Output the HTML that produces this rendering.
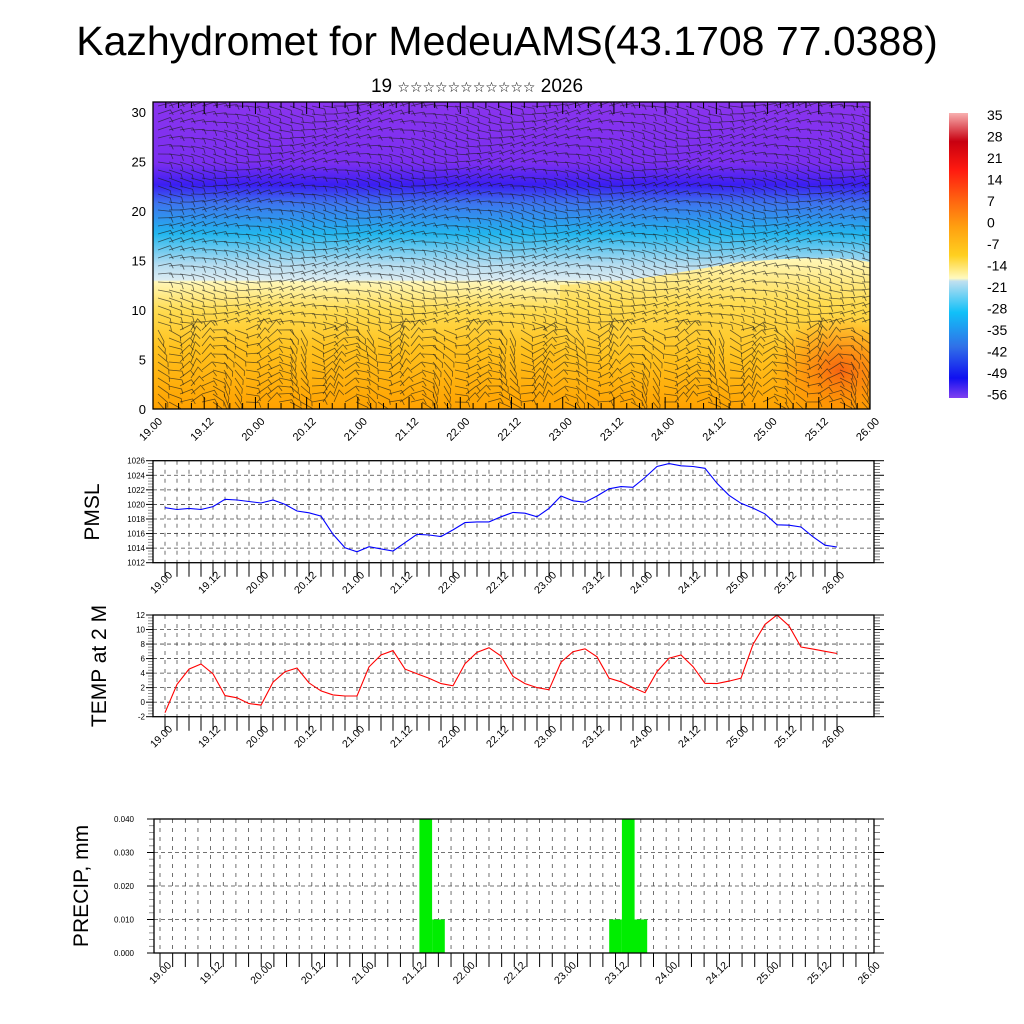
<!DOCTYPE html>
<html><head><meta charset="utf-8"><style>
body{margin:0;background:#fff;}
svg{display:block;font-family:"Liberation Sans",sans-serif;}
</style></head><body>
<svg id="chart" width="1024" height="1024" viewBox="0 0 1024 1024" xmlns="http://www.w3.org/2000/svg">
<defs>
<linearGradient id="tg" x1="0" y1="0" x2="0" y2="1">
<stop offset="0" stop-color="#8a34ee"/>
<stop offset="0.2" stop-color="#7a2ef0"/>
<stop offset="0.27" stop-color="#3a1ef2"/>
<stop offset="0.33" stop-color="#3d74ee"/>
<stop offset="0.43" stop-color="#22b6ee"/>
<stop offset="0.53" stop-color="#b4dcf0"/>
<stop offset="0.58" stop-color="#dcecf2"/>
<stop offset="0.585" stop-color="#fff7b8"/>
<stop offset="0.68" stop-color="#ffdc50"/>
<stop offset="0.8" stop-color="#ffc21e"/>
<stop offset="1" stop-color="#ffa200"/>
</linearGradient>
<linearGradient id="warm" x1="0" y1="0" x2="0" y2="1">
<stop offset="0" stop-color="#fff7b8"/>
<stop offset="0.3" stop-color="#ffdc50"/>
<stop offset="0.65" stop-color="#ffc21e"/>
<stop offset="1" stop-color="#ffa200"/>
</linearGradient>
<radialGradient id="hot" cx="0.5" cy="0.5" r="0.5">
<stop offset="0" stop-color="#f55a10" stop-opacity="0.9"/>
<stop offset="1" stop-color="#ff8000" stop-opacity="0"/>
</radialGradient>
<linearGradient id="cb" x1="0" y1="0" x2="0" y2="1">
<stop offset="0" stop-color="#f8b0b0"/>
<stop offset="0.1" stop-color="#c80010"/>
<stop offset="0.2" stop-color="#ff1a10"/>
<stop offset="0.3" stop-color="#ff6010"/>
<stop offset="0.4" stop-color="#ffa010"/>
<stop offset="0.5" stop-color="#ffd020"/>
<stop offset="0.58" stop-color="#fffac0"/>
<stop offset="0.59" stop-color="#c0e0f0"/>
<stop offset="0.7" stop-color="#10c0f8"/>
<stop offset="0.82" stop-color="#3070e8"/>
<stop offset="0.93" stop-color="#1010f0"/>
<stop offset="1" stop-color="#8040f0"/>
</linearGradient>
<clipPath id="tclip"><rect x="153" y="102" width="717" height="307"/></clipPath>
</defs>
<text x="507" y="55" font-size="41" text-anchor="middle">Kazhydromet for MedeuAMS(43.1708 77.0388)</text>
<text x="477" y="92" font-size="19" text-anchor="middle">19 <tspan font-size="14" font-family="DejaVu Sans">☆☆☆☆☆☆☆☆☆☆☆</tspan> 2026</text>

<g id="topPanel">
<g clip-path="url(#tclip)">
<rect x="153" y="102" width="717" height="307" fill="url(#tg)"/>
<path d="M560 409 L560 285 C640 282 690 270 740 262 C790 258 840 256 870 262 L870 409 Z" fill="url(#warm)"/>
<ellipse cx="840" cy="370" rx="70" ry="55" fill="url(#hot)"/>
<g id="barbs" stroke="#1a1a1a" stroke-width="0.8" stroke-opacity="0.65" fill="none"></g>
</g>
<rect x="153" y="102" width="717" height="307" fill="none" stroke="#000" stroke-width="1.3"/>
<g id="topaxes"></g>
</g>

<g id="cbar">
<rect x="949" y="113" width="19" height="285" fill="url(#cb)"/>
</g>

<text transform="translate(99,512) rotate(-90)" font-size="21" text-anchor="middle">PMSL</text>
<text transform="translate(106,666) rotate(-90)" font-size="21" text-anchor="middle">TEMP at 2 M</text>
<text transform="translate(88,886) rotate(-90)" font-size="21" text-anchor="middle">PRECIP, mm</text>
<g id="panels"></g>
</svg>
<script>
const NS="http://www.w3.org/2000/svg";
const dayLabels=["19.00","19.12","20.00","20.12","21.00","21.12","22.00","22.12","23.00","23.12","24.00","24.12","25.00","25.12","26.00"];
const pmslValues=[1019.55,1019.3,1019.45,1019.3,1019.7,1020.7,1020.6,1020.4,1020.2,1020.6,1020.0,1019.1,1018.85,1018.4,1015.9,1014.05,1013.5,1014.2,1013.9,1013.6,1014.75,1015.9,1015.8,1015.6,1016.5,1017.5,1017.6,1017.6,1018.3,1018.9,1018.8,1018.3,1019.45,1021.15,1020.5,1020.3,1021.15,1022.15,1022.45,1022.35,1023.7,1025.2,1025.6,1025.3,1025.2,1024.95,1022.9,1021.25,1020.15,1019.5,1018.7,1017.2,1017.15,1016.9,1015.55,1014.4,1014.15];
const tempValues=[-1.45,2.45,4.55,5.25,3.9,0.9,0.6,-0.2,-0.4,2.75,4.2,4.7,2.65,1.55,1.0,0.85,0.85,4.85,6.5,7.1,4.55,3.9,3.3,2.55,2.25,5.3,6.85,7.5,6.35,3.55,2.55,2.0,1.7,5.5,6.95,7.35,6.25,3.3,2.8,2.0,1.3,4.2,6.05,6.5,4.9,2.6,2.55,2.9,3.3,7.95,10.7,12.0,10.5,7.6,7.3,7.0,6.7];
const precipIndex=[21,22,36,37,38];
const precipValues=[0.04,0.01,0.01,0.04,0.01];
const pmslTicks=[1012,1014,1016,1018,1020,1022,1024,1026];
const tempTicks=[-2,0,2,4,6,8,10,12];
const precipTicks=[0,0.01,0.02,0.03,0.04];
const precipTickLabels=["0.000","0.010","0.020","0.030","0.040"];
const heightTicks=[0,5,10,15,20,25,30];
const cbarLabels=["35","28","21","14","7","0","-7","-14","-21","-28","-35","-42","-49","-56"];

function el(tag,attrs,parent){const e=document.createElementNS(NS,tag);for(const k in attrs)e.setAttribute(k,attrs[k]);parent.appendChild(e);return e;}
const svgRoot=document.getElementById('chart');
const panelsG=document.getElementById('panels');

const topAx=document.getElementById('topaxes');
const tx=i=>153+i*(717/56);
const ty=h=>409-h*(297/30);
heightTicks.forEach(h=>{
  const t=el('text',{x:146,y:ty(h)+5,'font-size':13,'text-anchor':'end'},topAx);
  
  
  t.textContent=h;
});
for(let i=0;i<=56;i++){
  el('line',{x1:tx(i),x2:tx(i),y1:409,y2:409-(i%4==0?12:6),stroke:'#000','stroke-width':1},topAx);
  el('line',{x1:tx(i),x2:tx(i),y1:102,y2:102+(i%4==0?12:6),stroke:'#000','stroke-width':1},topAx);
}
dayLabels.forEach((l,k)=>{
  const x=tx(k*4)+10,y=422;
  const t=el('text',{x:x,y:y,'font-size':11,'text-anchor':'end',transform:`rotate(-45 ${x} ${y})`},topAx);
  
  
  t.textContent=l;
});
const barbs=document.getElementById('barbs');
for(let gx=158;gx<870;gx+=11){
  for(let gy=106;gy<409;gy+=8){
    const h=(409-gy)/297*30;
    let a=Math.sin(gx*0.031+gy*0.05)*0.35;
    if(h<8) a+=Math.sin(gx*0.09)*0.9;
    const L=13;
    const x2=gx+L*Math.cos(a),y2=gy+L*Math.sin(a);
    el('path',{d:`M${gx} ${gy} L${x2.toFixed(1)} ${y2.toFixed(1)} l${(-3*Math.sin(a)+2).toFixed(1)} 5`},barbs);
  }
}
cbarLabels.forEach((l,k)=>{
  const t=el('text',{x:987,y:120+k*21.5,'font-size':14},svgRoot);
  
  
  t.textContent=l;
});

function panel(name,x0,x1,yt,yb,vmin,vmax,ticks,tickLabels,labelOff,labX){
  const g=el('g',{},panelsG);
  
  
  const X=i=>x0+i*(x1-x0)/56;
  const Y=v=>yb-(v-vmin)/(vmax-vmin)*(yb-yt);
  const left=name==='precip'?154:153, right=874;
  for(let i=0;i<=56;i++){
    el('line',{x1:X(i),x2:X(i),y1:yt,y2:yb,stroke:'#333','stroke-width':0.7,'stroke-dasharray':'4,5'},g);
  }
  ticks.forEach((v,k)=>{
    if(k>0&&k<ticks.length-1) el('line',{x1:left,x2:right,y1:Y(v),y2:Y(v),stroke:'#444','stroke-width':0.8,'stroke-dasharray':'4,3'},g);
    const t=el('text',{x:labX,y:Y(v)+3,'font-size':8,'text-anchor':'end'},g);
    
    
    t.textContent=tickLabels?tickLabels[k]:v;
    el('line',{x1:left-7,x2:left,y1:Y(v),y2:Y(v),stroke:'#000','stroke-width':1},g);
    el('line',{x1:right,x2:right+10,y1:Y(v),y2:Y(v),stroke:'#000','stroke-width':1},g);
    if(k<ticks.length-1){
      for(let m=1;m<5;m++){const yy=Y(v)+(Y(ticks[k+1])-Y(v))*m/5;
        el('line',{x1:left-5,x2:left,y1:yy,y2:yy,stroke:'#777','stroke-width':0.8},g);
        el('line',{x1:right,x2:right+6,y1:yy,y2:yy,stroke:'#555','stroke-width':0.8},g);}
    }
  });
  for(let i=0;i<=56;i++){
    el('line',{x1:X(i),x2:X(i),y1:yb,y2:yb+14,stroke:'#000','stroke-width':1},g);
  }
  dayLabels.forEach((l,k)=>{
    const x=X(k*4)+labelOff,y=yb+13;
    const t=el('text',{x:x,y:y,'font-size':10.5,'text-anchor':'end',transform:`rotate(-45 ${x} ${y})`},g);
    
    
    t.textContent=l;
  });
  return {g,X,Y,left,right};
}

const p=panel('pmsl',165,837,460.7,562.7,1012,1026,pmslTicks,null,8,145);
const pp=el('polyline',{points:pmslValues.map((v,i)=>p.X(i).toFixed(1)+','+p.Y(v).toFixed(1)).join(' '),fill:'none',stroke:'#0000ff','stroke-width':1.1},p.g);


el('rect',{x:153,y:460.7,width:721,height:102,fill:'none',stroke:'#000','stroke-width':1.3},p.g);

const tp=panel('temp',165,837,615,716.7,-2,12,tempTicks,null,8,145);
const tl=el('polyline',{points:tempValues.map((v,i)=>tp.X(i).toFixed(1)+','+tp.Y(v).toFixed(1)).join(' '),fill:'none',stroke:'#ff0000','stroke-width':1.1},tp.g);


el('rect',{x:153,y:615,width:721,height:101.7,fill:'none',stroke:'#000','stroke-width':1.3},tp.g);

const r=panel('precip',160,868.6,819,953,0,0.04,precipTicks,precipTickLabels,12,134);
const bw=(868.6-160)/56;
precipIndex.forEach((idx,k)=>{
  const v=Math.min(precipValues[k],0.04);
  const b=el('rect',{x:(r.X(idx)-bw/2).toFixed(1),y:r.Y(v).toFixed(1),width:bw.toFixed(1),height:(953-r.Y(v)).toFixed(1),fill:'#00ee00'},r.g);
  
  
});
el('rect',{x:154,y:819,width:720,height:134,fill:'none',stroke:'#000','stroke-width':1.3},r.g);
</script>
</body></html>
